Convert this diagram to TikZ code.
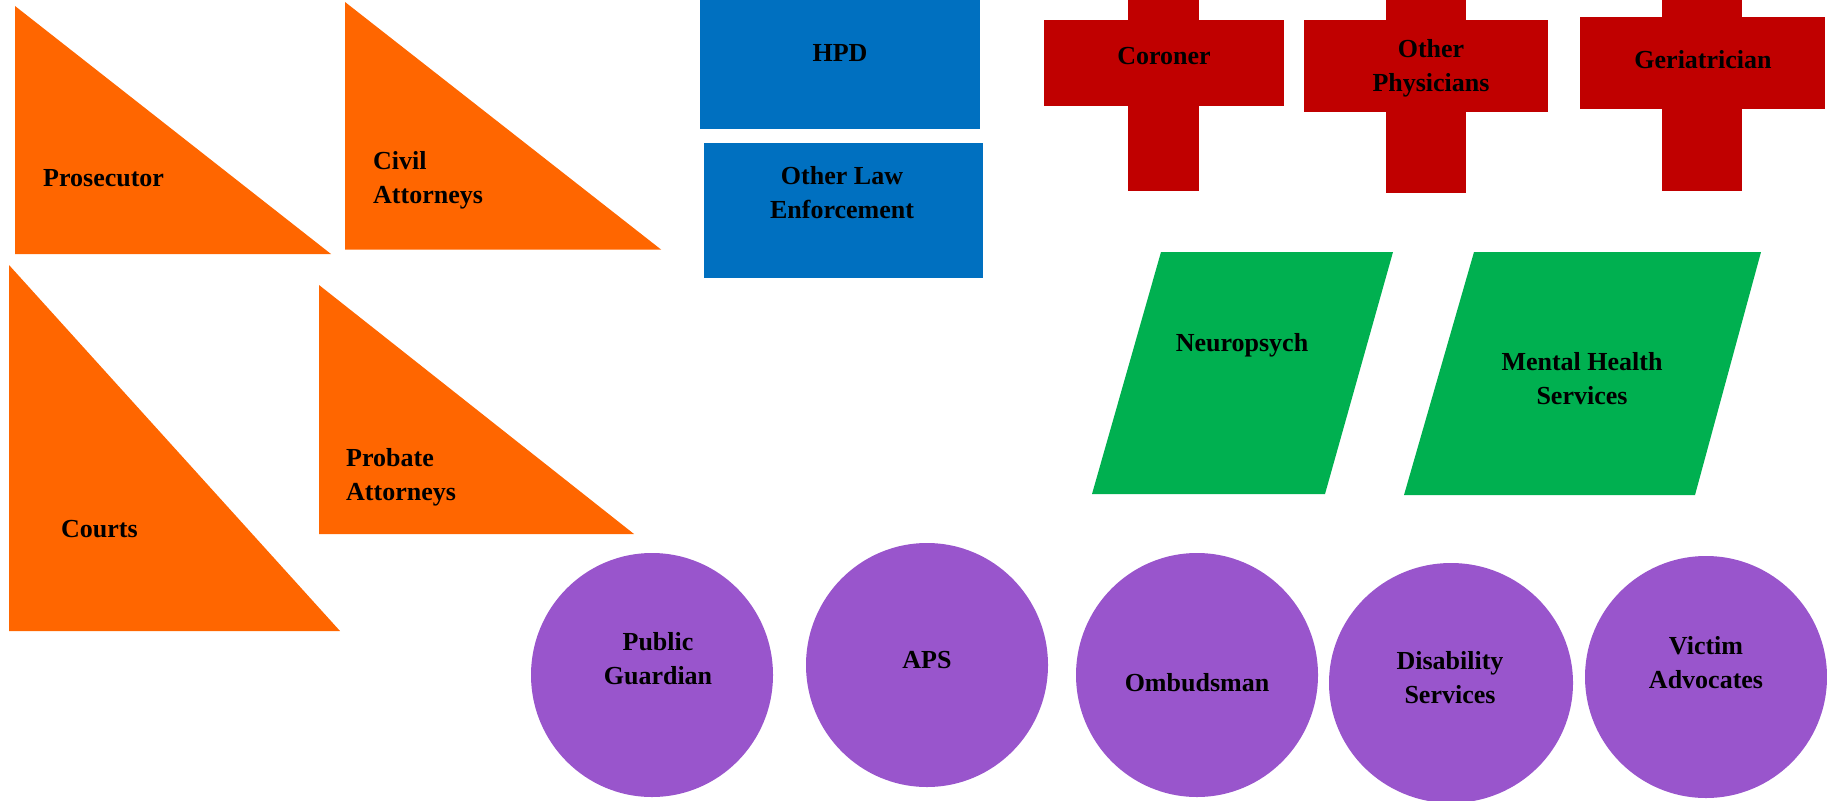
\documentclass[tikz,border=0pt]{standalone}
\usepackage{fontspec}
\setmainfont{Liberation Serif}
\definecolor{orgfill}{RGB}{255,102,0}
\definecolor{bluefill}{RGB}{0,112,192}
\definecolor{redfill}{RGB}{192,0,0}
\definecolor{greenfill}{RGB}{0,176,80}
\definecolor{purplefill}{RGB}{153,85,204}
\tikzset{
  lbl/.style={font=\fontsize{26}{34}\selectfont\bfseries, text=black, inner sep=0pt, anchor=base, align=center},
  lbll/.style={lbl, anchor=base west, align=left},
  tri/.style={fill=orgfill},
  lawbox/.style={fill=bluefill},
  crossbar/.style={fill=redfill},
  para/.style={fill=greenfill},
  disc/.style={fill=purplefill}
}
\begin{document}
\begin{tikzpicture}[x=1pt,y=-1pt]
\useasboundingbox (0,0) rectangle (1827,800);
% orange triangles
\fill[tri] (15,6) -- (15,254) -- (331,254) -- cycle;
\fill[tri] (345,2) -- (345,249.5) -- (661,249.5) -- cycle;
\fill[tri] (9,265) -- (9,631) -- (340,631) -- cycle;
\fill[tri] (319,285) -- (319,534) -- (634,534) -- cycle;
\node[lbll] (pros) at (43,186.5) {Prosecutor};
\node[lbll] (civ) at (373,203) {Civil\\Attorneys};
\node[lbll] (court) at (61,537) {Courts};
\node[lbll] (prob) at (346,500) {Probate\\Attorneys};
% blue rectangles
\fill[lawbox] (700,0) rectangle (980,129);
\fill[lawbox] (704,143) rectangle (983,278);
\node[lbl] (hpd) at (840,62) {HPD};
\node[lbl] (ole) at (842,218) {Other Law\\Enforcement};
% red crosses
\fill[crossbar] (1044,20) rectangle (1284,106);
\fill[crossbar] (1128,0) rectangle (1199,191);
\fill[crossbar] (1304,20) rectangle (1548,112);
\fill[crossbar] (1386,0) rectangle (1466,193);
\fill[crossbar] (1580,17) rectangle (1825,109);
\fill[crossbar] (1662,0) rectangle (1742,191);
\node[lbl] (cor) at (1164,65) {Coroner};
\node[lbl] (oph) at (1431,92) {Other\\Physicians};
\node[lbl] (ger) at (1703,69) {Geriatrician};
% green parallelograms
\fill[para] (1161,252) -- (1393,252) -- (1325,494) -- (1092,494) -- cycle;
\fill[para] (1474,252) -- (1761,252) -- (1695,495) -- (1404,495) -- cycle;
\node[lbl] (neu) at (1242,351) {Neuropsych};
\node[lbl] (mhs) at (1582,404) {Mental Health\\Services};
% purple circles
\fill[disc] (652,675) ellipse [x radius=121, y radius=122];
\fill[disc] (927,665) ellipse [x radius=121, y radius=122];
\fill[disc] (1197,675) ellipse [x radius=121, y radius=122];
\fill[disc] (1451,683) ellipse [x radius=122, y radius=120];
\fill[disc] (1706,677) ellipse [x radius=121, y radius=121];
\node[lbl] (pg) at (658,684) {Public\\Guardian};
\node[lbl] (aps) at (927,668) {APS};
\node[lbl] (omb) at (1197,691) {Ombudsman};
\node[lbl] (dis) at (1450,703) {Disability\\Services};
\node[lbl] (vic) at (1706,688) {Victim\\Advocates};
\end{tikzpicture}
\end{document}
